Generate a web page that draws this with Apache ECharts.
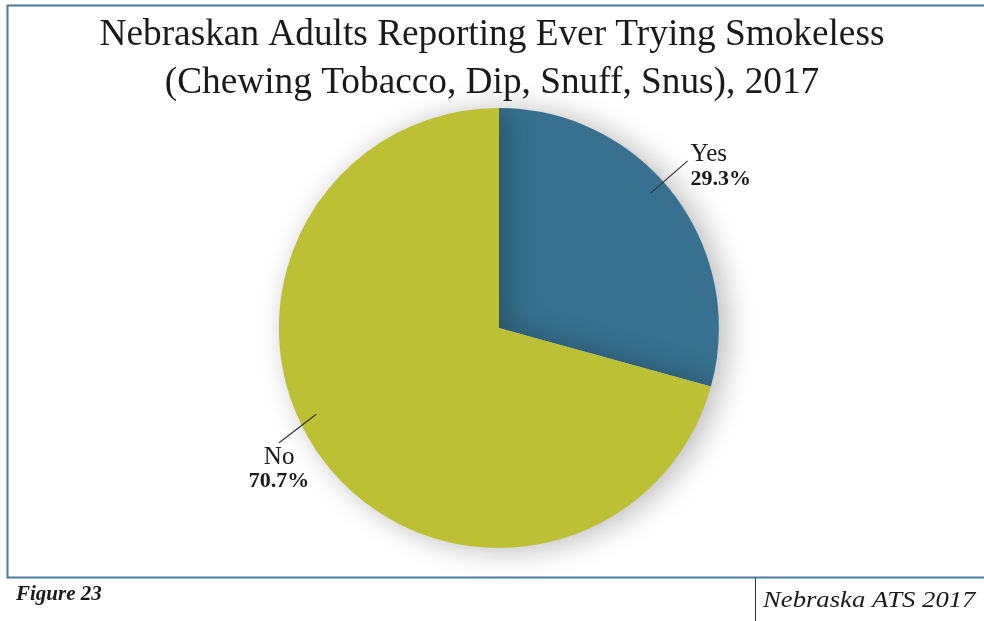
<!DOCTYPE html>
<html>
<head>
<meta charset="utf-8">
<script src="https://cdn.jsdelivr.net/npm/echarts@6/dist/echarts.min.js"></script>
<style>
  html, body { margin: 0; padding: 0; background: #fff; }
  #chart { width: 984px; height: 621px; }
</style>
</head>
<body>
<div id="chart"></div>
<script>
// Survey responses (percent of adults)
const categories = ['Yes', 'No'];
const percentages = [29.3, 70.7];
const sliceColors = ['#37718f', '#bcc035'];

const titleLines = [
  'Nebraskan Adults Reporting Ever Trying Smokeless',
  '(Chewing Tobacco, Dip, Snuff, Snus), 2017'
];
const figureLabel = 'Figure 23';
const sourceLabel = 'Nebraska ATS 2017';

const SERIF = '"Liberation Serif", "DejaVu Serif", serif';

// Pie geometry
const CENTER = ['50.7%', '52.8%'];
const RADIUS = 220;
// Leader lines: [angle, radius] of inner and outer ends (degrees clockwise from 12 o'clock),
// plus the label offset from the outer end
const leaders = [
  { inner: [48.4, 203], outer: [48.5, 252], text: [3, 6], align: 'left' },
  { inner: [244.7, 202], outer: [242.4, 248], text: [0, 27], align: 'center' }
];

const chart = echarts.init(document.getElementById('chart'));
const W = chart.getWidth(), H = chart.getHeight();
const cx = W * parseFloat(CENTER[0]) / 100;
const cy = H * parseFloat(CENTER[1]) / 100;

function polar(p) {
  const a = p[0] * Math.PI / 180;
  return [cx + p[1] * Math.sin(a), cy - p[1] * Math.cos(a)];
}

// Leader lines sit above the slices
const leaderGraphics = leaders.map(l => {
  const a = polar(l.inner), b = polar(l.outer);
  return {
    type: 'line',
    z: 100,
    shape: { x1: a[0], y1: a[1], x2: b[0], y2: b[1] },
    style: { stroke: '#333', lineWidth: 1.2 }
  };
});

const option = {
  animation: false,
  backgroundColor: '#ffffff',
  title: {
    text: titleLines.join('\n'),
    left: 'center',
    top: 6,
    textStyle: {
      fontFamily: SERIF,
      fontSize: 37.3,
      fontWeight: 'normal',
      color: '#1a1a1a',
      lineHeight: 48
    }
  },
  graphic: [
    {
      type: 'polyline',
      shape: { points: [[1000, 5.5], [7.5, 5.5], [7.5, 577.5], [1000, 577.5]] },
      style: { stroke: '#4a7b9a', lineWidth: 2, fill: null }
    },
    {
      type: 'line',
      shape: { x1: 755.5, y1: 578, x2: 755.5, y2: 621 },
      style: { stroke: '#333', lineWidth: 1 }
    },
    {
      type: 'text',
      x: 16, y: 585,
      scaleX: 1.05,
      style: {
        text: figureLabel,
        font: 'italic bold 20px ' + SERIF,
        fill: '#1a1a1a'
      }
    },
    {
      type: 'text',
      x: 763, y: 589,
      scaleX: 1.16,
      style: {
        text: sourceLabel,
        font: 'italic 23px ' + SERIF,
        fill: '#1a1a1a'
      }
    }
  ].concat(leaderGraphics),
  series: [{
    type: 'pie',
    center: CENTER,
    radius: RADIUS,
    startAngle: 90,
    clockwise: true,
    silent: true,
    data: categories.map((c, i) => ({
      name: c,
      value: percentages[i],
      itemStyle: { color: sliceColors[i] }
    })),
    itemStyle: {
      shadowBlur: 30,
      shadowOffsetX: 8,
      shadowOffsetY: 2,
      shadowColor: 'rgba(0,0,0,0.28)'
    },
    label: {
      show: true,
      position: 'outside',
      formatter: p => '{n|' + p.name + '}\n{v|' + p.value.toFixed(1) + '%}',
      rich: {
        n: { fontFamily: SERIF, fontSize: 25, color: '#1a1a1a', lineHeight: 24 },
        v: { fontFamily: SERIF, fontSize: 22, fontWeight: 'bold', color: '#1a1a1a', lineHeight: 24 }
      }
    },
    labelLine: { show: false },
    labelLayout: function (params) {
      const l = leaders[params.dataIndex];
      const outer = polar(l.outer);
      return {
        x: outer[0] + l.text[0],
        y: outer[1] + l.text[1],
        align: l.align,
        verticalAlign: 'middle'
      };
    }
  }]
};

chart.setOption(option);
</script>
</body>
</html>
